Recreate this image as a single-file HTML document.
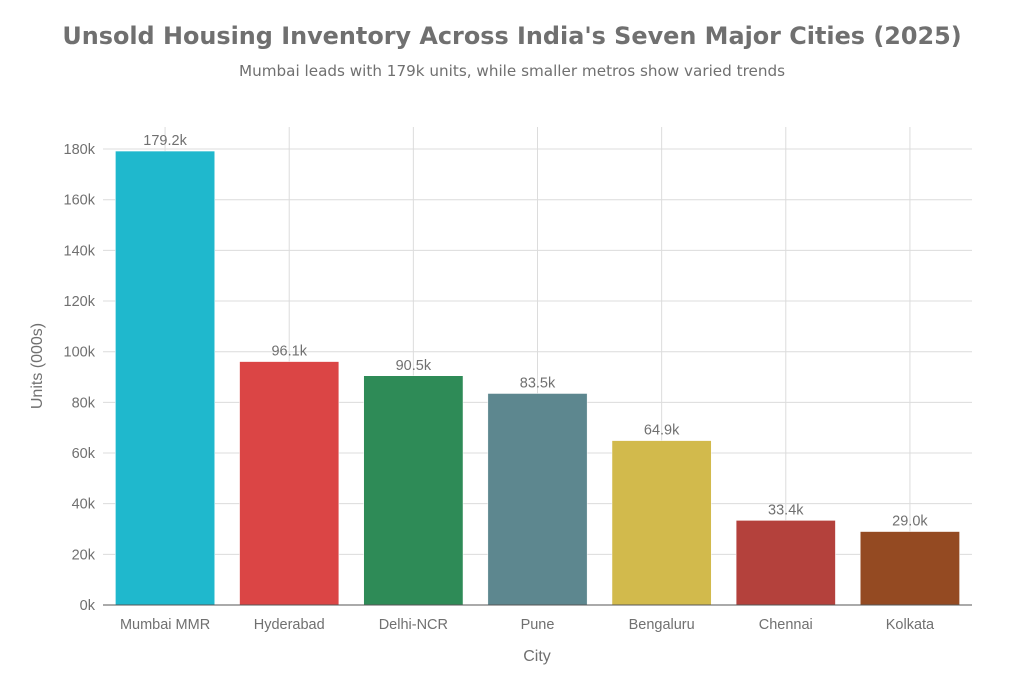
<!DOCTYPE html>
<html><head><meta charset="utf-8"><style>
body{margin:0;background:#fff;font-family:"Liberation Sans",sans-serif}
svg text{font-family:"Liberation Sans",sans-serif}
</style></head><body>
<svg id="chart" width="1024" height="683" xmlns="http://www.w3.org/2000/svg">
<rect width="1024" height="683" fill="#fff"/>
<text x="512" y="44" text-anchor="middle" font-size="23.9" font-weight="bold" fill="#707070" style="font-family:'DejaVu Sans',sans-serif">Unsold Housing Inventory Across India's Seven Major Cities (2025)</text>
<text x="512" y="76" text-anchor="middle" font-size="15.2" fill="#707070" style="font-family:'DejaVu Sans',sans-serif">Mumbai leads with 179k units, while smaller metros show varied trends</text>
<g id="grid"></g><g id="bars"></g><g id="axes"></g>
<text transform="translate(42,366) rotate(-90)" text-anchor="middle" font-size="16" fill="#707070">Units (000s)</text>
<text x="537" y="661" text-anchor="middle" font-size="16" fill="#707070">City</text>
</svg>
<script>
const categories=["Mumbai MMR","Hyderabad","Delhi-NCR","Pune","Bengaluru","Chennai","Kolkata"];
const values=[179.2,96.1,90.5,83.5,64.9,33.4,29.0];
const valueLabels=["179.2k","96.1k","90.5k","83.5k","64.9k","33.4k","29.0k"];
const colors=["#1fb8cd","#db4545","#2e8b57","#5d878f","#d2ba4c","#b4413c","#944a22"];
const yTicks=[0,20,40,60,80,100,120,140,160,180];
const yTickLabels=["0k","20k","40k","60k","80k","100k","120k","140k","160k","180k"];
const NS="http://www.w3.org/2000/svg";
const L=103,R=972,T=127,B=605,yMax=188.7;
const y=v=>B-(v/yMax)*(B-T);
const band=(R-L)/categories.length;
const xc=i=>L+band*(i+0.5);
function mk(tag,attrs,parent,text){const e=document.createElementNS(NS,tag);for(const k in attrs)e.setAttribute(k,attrs[k]);if(text!=null)e.textContent=text;parent.appendChild(e);return e;}
const g=document.getElementById('grid'),gb=document.getElementById('bars'),ga=document.getElementById('axes');
yTicks.forEach((t,i)=>{
 if(t>0){const l=mk('line',{x1:L,x2:R,y1:y(t),y2:y(t),stroke:'#dcdcdc','stroke-width':1},g);
 
 }
 const tx=mk('text',{x:L-8,y:y(t)+5,'text-anchor':'end','font-size':14.5,fill:'#707070'},ga,yTickLabels[i]);
 
 
});
categories.forEach((c,i)=>{
 const l=mk('line',{x1:xc(i),x2:xc(i),y1:T,y2:B,stroke:'#dcdcdc','stroke-width':1},g);
 
 
 const w=band*0.8;
 const r=mk('rect',{x:xc(i)-w/2,y:y(values[i]),width:w,height:B-y(values[i]),fill:colors[i],stroke:'#fff','stroke-width':0.5},gb);
 
 
 const v=mk('text',{x:xc(i),y:y(values[i])-6,'text-anchor':'middle','font-size':14.5,fill:'#707070'},gb,valueLabels[i]);
 
 
 const xt=mk('text',{x:xc(i),y:629,'text-anchor':'middle','font-size':14.5,fill:'#707070'},ga,c);
 
 
});
const ax=mk('line',{x1:L,x2:R,y1:B,y2:B,stroke:'#555','stroke-width':1},ga);


</script>
</body></html>
